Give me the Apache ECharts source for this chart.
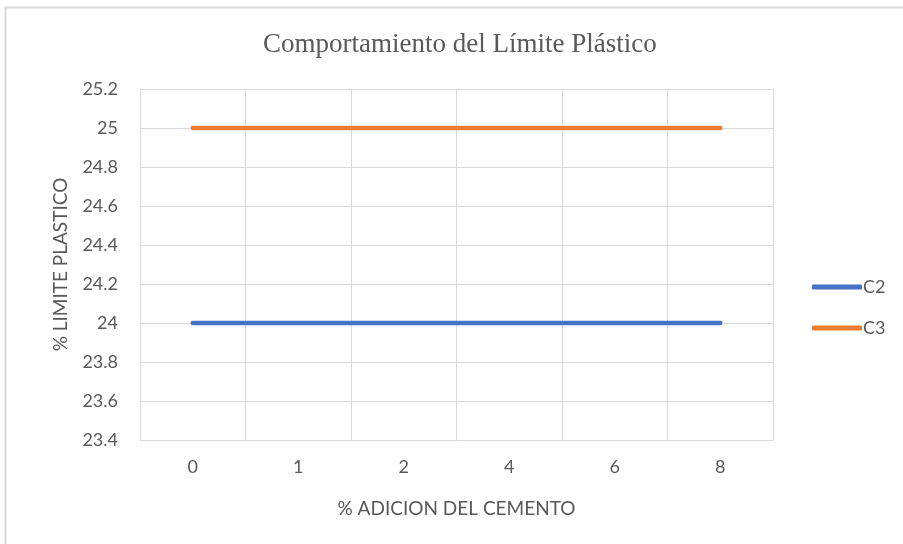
<!DOCTYPE html>
<html>
<head>
<meta charset="utf-8">
<script src="https://cdn.jsdelivr.net/npm/echarts@6/dist/echarts.min.js"></script>
<style>
	html, body { margin: 0; padding: 0; background: #fff; }
	#chart { width: 903px; height: 544px; }
</style>
</head>
<body>
<div id="chart"></div>
<script>
	// datos
	var categorias = ['0', '1', '2', '4', '6', '8'];
	var serieC2 = [24, 24, 24, 24, 24, 24];
	var serieC3 = [25, 25, 25, 25, 25, 25];
	var nombres = ['C2', 'C3'];
	var colores = ['#4472C4', '#ED7D31'];

	var chart = echarts.init(document.getElementById('chart'));
	var gris = '#595959';
	var fuente = 'Lato';

	var option = {
		animation: false,
		backgroundColor: '#fff',
		title: {
			text: 'Comportamiento del Límite Plástico',
			left: 258,
			top: 26,
			textStyle: {
				fontFamily: 'Liberation Serif',
				fontSize: 27,
				fontWeight: 'normal',
				color: gris
			}
		},
		graphic: [{
			type: 'rect',
			shape: { x: 5.5, y: 7.5, width: 920, height: 560 },
			style: { fill: 'none', stroke: '#d9d9d9', lineWidth: 2 }
		}],
		legend: {
			orient: 'vertical',
			left: 807,
			top: 273,
			itemWidth: 50,
			itemHeight: 5,
			itemGap: 23,
			icon: 'roundRect',
			data: nombres,
			textStyle: {
				fontFamily: fuente,
				fontSize: 18,
				color: gris,
				padding: [0, 0, 0, -4]
			}
		},
		grid: {
			left: 140,
			right: 130,
			top: 89,
			bottom: 104
		},
		xAxis: {
			type: 'category',
			data: categorias,
			boundaryGap: true,
			name: '% ADICION DEL CEMENTO',
			nameLocation: 'middle',
			nameGap: 59,
			nameTextStyle: {
				fontFamily: fuente,
				fontSize: 19,
				color: gris
			},
			axisLine: { lineStyle: { color: '#d9d9d9', width: 1 } },
			axisTick: { show: false },
			axisLabel: {
				margin: 18,
				fontFamily: fuente,
				fontSize: 18,
				color: gris
			},
			splitLine: { show: true, lineStyle: { color: '#d9d9d9', width: 1 } }
		},
		yAxis: {
			type: 'value',
			min: 23.4,
			max: 25.2,
			interval: 0.2,
			name: '% LIMITE PLASTICO',
			nameLocation: 'middle',
			nameGap: 70,
			nameTextStyle: {
				fontFamily: fuente,
				fontSize: 19,
				color: gris
			},
			axisLine: { show: false },
			axisTick: { show: false },
			axisLabel: {
				margin: 22,
				fontFamily: fuente,
				fontSize: 18,
				color: gris,
				formatter: function(v) {
					return String(Math.round(v * 10) / 10);
				}
			},
			splitLine: { lineStyle: { color: '#d9d9d9', width: 1 } }
		},
		series: [{
			name: nombres[0],
			type: 'line',
			data: serieC2,
			symbol: 'none',
			color: colores[0],
			lineStyle: { width: 4.5, cap: 'round' }
		}, {
			name: nombres[1],
			type: 'line',
			data: serieC3,
			symbol: 'none',
			color: colores[1],
			lineStyle: { width: 4.5, cap: 'round' }
		}]
	};

	chart.setOption(option);
</script>
</body>
</html>
